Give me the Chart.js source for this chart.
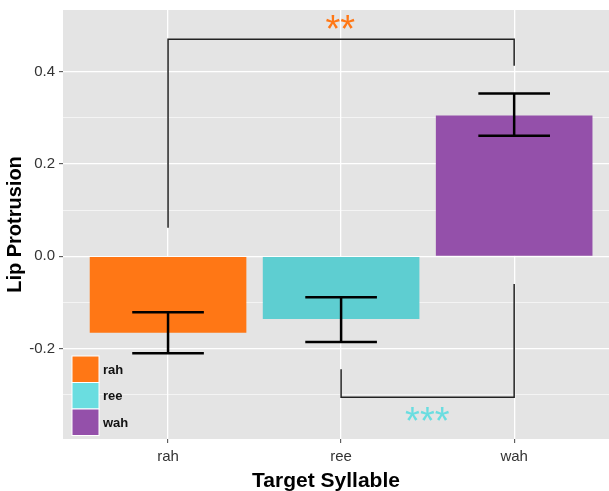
<!DOCTYPE html>
<html>
<head>
<meta charset="utf-8">
<script src="https://cdn.jsdelivr.net/npm/chart.js@4"></script>
<style>
  html, body { margin: 0; padding: 0; background: #fff; }
  #wrap { width: 609px; height: 491px; }
</style>
</head>
<body>
<div id="wrap"><canvas id="chart" width="609" height="491"></canvas></div>
<script>
// values
const syllables = ['rah', 'ree', 'wah'];
const means = [-0.1655, -0.136, 0.3055];
const errLow = [-0.210, -0.1857, 0.2613];
const errHigh = [-0.1213, -0.0888, 0.3532];
const barColors = ['#FF7715', '#5ECED1', '#9450AA'];
const legendColors = ['#FF7715', '#6ADDE0', '#9450AA'];

const yMajor = [-0.2, 0, 0.2, 0.4];
const yMinor = [-0.3, -0.1, 0.1, 0.3];

// significance brackets
const sigFrom = [0, 1];
const sigTo = [2, 2];
const sigLevel = [0.4706, -0.3055];
const sigFromEnd = [0.062, -0.2449];
const sigToEnd = [0.413, -0.060];
const sigLabels = ['**', '***'];
const sigLabelX = [0.995, 1.498];
const sigLabelY = [0.508, -0.3417];
const sigColors = ['#FF7715', '#6ADDE0'];

const FONT = '"Liberation Sans", Arial, sans-serif';

const panelBg = {
    id: 'panelBg',
    beforeDraw(chart) {
        const { ctx, chartArea: a } = chart;
        ctx.save();
        ctx.fillStyle = '#E4E4E4';
        ctx.fillRect(a.left, a.top, a.right - a.left, a.bottom - a.top);
        ctx.restore();
    }
};

const extras = {
    id: 'extras',
    afterDatasetsDraw(chart) {
        const { ctx, scales: { x, y } } = chart;
        ctx.save();
        // error bars
        ctx.strokeStyle = '#000';
        ctx.lineWidth = 2.5;
        syllables.forEach((s, i) => {
            const cx = x.getPixelForValue(i);
            const hw = x.getPixelForValue(i + 0.207) - cx;
            const yl = y.getPixelForValue(errLow[i]);
            const yh = y.getPixelForValue(errHigh[i]);
            ctx.beginPath();
            ctx.moveTo(cx - hw, yh); ctx.lineTo(cx + hw, yh);
            ctx.moveTo(cx, yh); ctx.lineTo(cx, yl);
            ctx.moveTo(cx - hw, yl); ctx.lineTo(cx + hw, yl);
            ctx.stroke();
        });
        // brackets
        ctx.strokeStyle = '#222';
        ctx.lineWidth = 1.5;
        sigLevel.forEach((lvl, i) => {
            const x1 = x.getPixelForValue(sigFrom[i]);
            const x2 = x.getPixelForValue(sigTo[i]);
            const yl = y.getPixelForValue(lvl);
            ctx.beginPath();
            ctx.moveTo(x1, y.getPixelForValue(sigFromEnd[i]));
            ctx.lineTo(x1, yl);
            ctx.lineTo(x2, yl);
            ctx.lineTo(x2, y.getPixelForValue(sigToEnd[i]));
            ctx.stroke();
        });
        // stars, centred on their glyph box
        ctx.font = '38px ' + FONT;
        ctx.textAlign = 'center';
        ctx.textBaseline = 'alphabetic';
        sigLabels.forEach((t, i) => {
            const m = ctx.measureText(t);
            const shift = (m.actualBoundingBoxAscent - m.actualBoundingBoxDescent) / 2;
            ctx.fillStyle = sigColors[i];
            ctx.fillText(t, x.getPixelForValue(sigLabelX[i]), y.getPixelForValue(sigLabelY[i]) + shift);
        });
        ctx.restore();
    },
    afterDraw(chart) {
        const { ctx, chartArea: a } = chart;
        ctx.save();
        // x axis title
        ctx.fillStyle = '#000';
        ctx.font = 'bold 21px ' + FONT;
        ctx.textAlign = 'center';
        ctx.textBaseline = 'middle';
        ctx.fillText('Target Syllable', a.left + 263, 481);
        // legend inside the panel, bottom left
        const kx = a.left + 9, kw = 27, kh = 26.5;
        const ky = a.bottom - 3.5 - kh * syllables.length;
        syllables.forEach((s, i) => {
            const yy = ky + i * kh;
            ctx.fillStyle = legendColors[i];
            ctx.fillRect(kx, yy, kw, kh);
            ctx.strokeStyle = '#fff';
            ctx.lineWidth = 1;
            ctx.strokeRect(kx, yy, kw, kh);
            ctx.fillStyle = '#111';
            ctx.font = 'bold 13px ' + FONT;
            ctx.textAlign = 'left';
            ctx.textBaseline = 'middle';
            ctx.fillText(s, kx + kw + 4, yy + kh / 2 + 1);
        });
        ctx.restore();
    }
};

new Chart(document.getElementById('chart'), {
    type: 'bar',
    data: {
        datasets: [{
            data: syllables.map((s, i) => ({ x: i, y: means[i] })),
            backgroundColor: barColors,
            categoryPercentage: 0.905,
            barPercentage: 1.0
        }]
    },
    options: {
        responsive: false,
        animation: false,
        layout: { padding: { top: 10, right: 0, bottom: 0, left: 0 } },
        plugins: { legend: { display: false }, tooltip: { enabled: false } },
        scales: {
            x: {
                type: 'linear',
                min: -0.607,
                max: 2.548,
                offset: false,
                afterBuildTicks: axis => { axis.ticks = syllables.map((s, i) => ({ value: i })); },
                afterFit: axis => {
                    axis.height = 52;
                    axis.paddingLeft = 0;
                    axis.paddingRight = 0;
                },
                border: { display: false },
                grid: { offset: false, color: '#fff', lineWidth: 1.3, tickLength: 4, tickColor: '#444', tickWidth: 1 },
                ticks: {
                    callback: v => syllables[v],
                    color: '#333',
                    font: { family: FONT, size: 15 },
                    padding: 5,
                    maxRotation: 0
                },
                title: { display: false }
            },
            y: {
                min: -0.396,
                max: 0.534,
                afterBuildTicks: axis => {
                    axis.ticks = yMinor.concat(yMajor).sort((a, b) => a - b).map(v => ({ value: v }));
                },
                afterFit: axis => {
                    axis.width = 63;
                    axis.paddingTop = 0;
                    axis.paddingBottom = 0;
                },
                border: { display: false },
                grid: {
                    color: '#fff',
                    lineWidth: c => yMajor.includes(c.tick.value) ? 1.3 : 0.6,
                    tickLength: 4,
                    tickColor: c => yMajor.includes(c.tick.value) ? '#444' : 'rgba(0,0,0,0)',
                    tickWidth: 1
                },
                ticks: {
                    callback: v => yMajor.includes(v) ? v.toFixed(1) : '',
                    color: '#333',
                    font: { family: FONT, size: 15 },
                    padding: 4
                },
                title: {
                    display: true,
                    text: 'Lip Protrusion',
                    color: '#000',
                    font: { family: FONT, size: 20, weight: 'bold', lineHeight: 1 },
                    padding: { top: 5, bottom: 0 }
                }
            }
        }
    },
    plugins: [panelBg, extras]
});
</script>
</body>
</html>
